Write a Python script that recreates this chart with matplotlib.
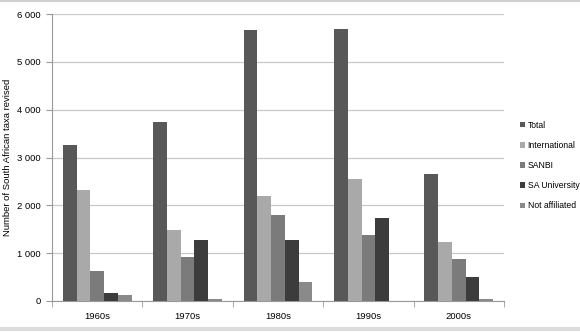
import matplotlib
matplotlib.use("Agg")
import matplotlib.pyplot as plt
import numpy as np
from matplotlib.ticker import FuncFormatter, FixedLocator
from matplotlib.lines import Line2D

plt.rcParams['font.family'] = ['Liberation Sans', 'DejaVu Sans']

decades = ["1960s", "1970s", "1980s", "1990s", "2000s"]
series_names = ["Total", "International", "SANBI", "SA University", "Not affiliated"]
total = [3260, 3745, 5670, 5690, 2650]
international = [2320, 1485, 2200, 2550, 1230]
sanbi = [620, 920, 1790, 1380, 880]
sa_university = [170, 1275, 1270, 1740, 500]
not_affiliated = [125, 40, 390, 0, 40]
colors = ["#585858", "#a9a9a9", "#7b7b7b", "#3c3c3c", "#8a8a8a"]

series = [total, international, sanbi, sa_university, not_affiliated]

fig = plt.figure(figsize=(5.8, 3.32), dpi=100)
ax = fig.add_axes([52/580, 31/332, 452/580, 287/332])

x = np.arange(len(decades))
w = 0.152
for i, (vals, name, c) in enumerate(zip(series, series_names, colors)):
    ax.bar(x + (i - 2) * w, vals, width=w, color=c, label=name, zorder=3)

fs = 6.8
ax.set_xlim(-0.5, len(decades) - 0.5)
ax.set_ylim(0, 6000)
ax.set_yticks(range(0, 6001, 1000))
ax.yaxis.set_major_formatter(FuncFormatter(lambda v, p: f"{int(v):,}".replace(",", " ")))
ax.set_xticks(x)
ax.set_xticklabels(decades, fontsize=fs)
ax.xaxis.set_minor_locator(FixedLocator(np.arange(-0.5, len(decades), 1.0)))
ax.tick_params(axis='x', which='major', length=0, pad=8)
ax.tick_params(axis='x', which='minor', length=4, color='#999999')
ax.tick_params(axis='y', length=4, color='#999999', labelsize=fs, pad=4)
ax.yaxis.grid(True, color='#c8c8c8', linewidth=0.9, zorder=0)
for s in ['top', 'right']:
    ax.spines[s].set_visible(False)
for s in ['left', 'bottom']:
    ax.spines[s].set_color('#999999')
ax.set_ylabel("Number of South African taxa revised", fontsize=fs)
ax.yaxis.set_label_coords(-40/452, 0.5)

ax.legend(loc='center left', bbox_to_anchor=(1.035, 0.472), frameon=False, fontsize=6.2,
          handlelength=0.6, handleheight=0.6, handletextpad=0.3, labelspacing=1.3,
          borderaxespad=0, borderpad=0)

fig.lines.append(Line2D([0, 1], [1 - 1/332, 1 - 1/332], transform=fig.transFigure,
                        color='#d0d0d0', linewidth=1.5))
fig.lines.append(Line2D([0, 1], [3/332, 3/332], transform=fig.transFigure,
                        color='#dcdcdc', linewidth=3))

fig.savefig("out.png", dpi=100)
